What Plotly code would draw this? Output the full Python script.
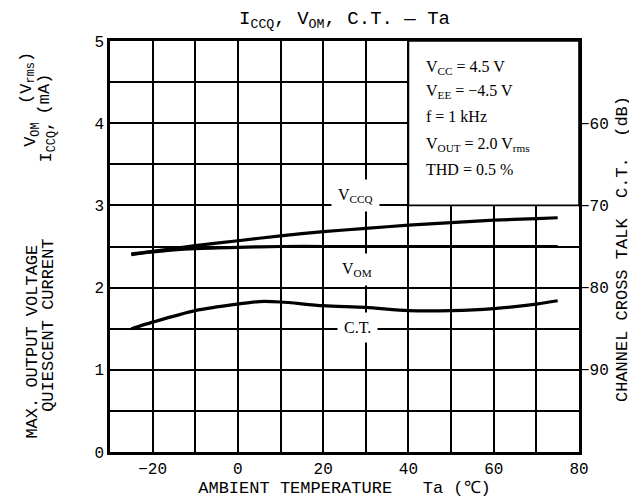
import plotly.graph_objects as go

# ---- data ----
T_iccq = [-25, -20, -10, 0, 10, 20, 30, 40, 50, 60, 70, 75]
I_ccq = [2.40, 2.44, 2.51, 2.57, 2.63, 2.68, 2.72, 2.76, 2.79, 2.82, 2.84, 2.85]

T_vom = [-25, -15, -10, 0, 10, 20, 40, 60, 75]
V_om = [2.41, 2.46, 2.475, 2.49, 2.50, 2.50, 2.50, 2.50, 2.50]

T_ct = [-25, -20, -10, 0, 5, 10, 20, 30, 40, 50, 60, 70, 75]
CT_db = [-85.0, -84.2, -82.8, -82.0, -81.7, -81.75, -82.2, -82.4, -82.8, -82.8, -82.55, -82.0, -81.6]

x_ticks = [-20, 0, 20, 40, 60, 80]
y_ticks = [0, 1, 2, 3, 4, 5]
y2_ticks = [-90, -80, -70, -60]

MONO = "Liberation Mono"
SERIF = "Liberation Serif"

fig = go.Figure()
line = dict(color="black", width=3.2, shape="spline", smoothing=0.8)
fig.add_trace(go.Scatter(x=T_iccq, y=I_ccq, mode="lines", line=line, yaxis="y"))
fig.add_trace(go.Scatter(x=T_vom, y=V_om, mode="lines", line=line, yaxis="y"))
fig.add_trace(go.Scatter(x=T_ct, y=CT_db, mode="lines", line=line, yaxis="y2"))

# white parameter box
fig.add_shape(type="rect", xref="x", yref="y", x0=40, x1=80, y0=3.0, y1=5.0,
              fillcolor="white", line=dict(color="black", width=1.6), layer="above")

params = [
    ("V<sub>CC</sub> = 4.5 V", 4.68),
    ("V<sub>EE</sub> = −4.5 V", 4.38),
    ("f = 1 kHz", 4.08),
    ("V<sub>OUT</sub> = 2.0 V<sub>rms</sub>", 3.74),
    ("THD = 0.5 %", 3.44),
]
for txt, yy in params:
    fig.add_annotation(x=43.6, y=yy, xref="x", yref="y", text=txt, showarrow=False,
                       xanchor="left", yanchor="middle",
                       font=dict(family=SERIF, size=16, color="black"))

# curve labels
for txt, xx, yy in [("V<sub>CCQ</sub>", 27.5, 3.12), ("V<sub>OM</sub>", 28, 2.22), ("C.T.", 28, 1.52)]:
    fig.add_annotation(x=xx, y=yy, xref="x", yref="y", text=txt, showarrow=False,
                       bgcolor="white", borderpad=6,
                       font=dict(family=SERIF, size=16, color="black"))

# title
fig.add_annotation(x=0.5, y=1.0, xref="paper", yref="paper", yshift=21, yanchor="middle",
                   text="I<sub>CCQ</sub>, V<sub>OM</sub>, C.T. — Ta", showarrow=False,
                   font=dict(family=MONO, size=19, color="black"))

# left axis titles (two rotated columns)
left_texts = [
    ("MAX. OUTPUT VOLTAGE", -0.166, 0.269),
    ("V<sub>OM</sub>", -0.166, 0.772),
    ("(V<sub>rms</sub>)", -0.175, 0.910),
    ("QUIESCENT CURRENT", -0.1325, 0.309),
    ("I<sub>CCQ</sub>,", -0.1325, 0.755),
    ("(mA)", -0.139, 0.872),
]
for txt, xx, yy in left_texts:
    fig.add_annotation(xref="paper", yref="paper", x=xx, y=yy, textangle=-90, text=txt,
                       xanchor="center", yanchor="middle",
                       showarrow=False, font=dict(family=MONO, size=17, color="black"))

# right axis title
fig.add_annotation(xref="paper", yref="paper", x=1.094, y=0.494, textangle=-90,
                   xanchor="center", yanchor="middle",
                   text="CHANNEL CROSS TALK  C.T.  (dB)",
                   showarrow=False, font=dict(family=MONO, size=17, color="black"))

fig.update_layout(
    width=637, height=499,
    margin=dict(l=102, r=66, t=33, b=49),
    paper_bgcolor="white", plot_bgcolor="white",
    showlegend=False,
    xaxis=dict(range=[-30, 80], tickvals=x_ticks, showgrid=True, gridcolor="black", gridwidth=1.5,
               minor=dict(dtick=10, tick0=0, showgrid=True, gridcolor="black", gridwidth=1.5),
               showline=True, linecolor="black", linewidth=2.5, mirror=True, zeroline=False,
               ticks="", tickfont=dict(family=MONO, size=16, color="black"),
               title=dict(text="AMBIENT TEMPERATURE   Ta (℃)", font=dict(family=MONO, size=17, color="black"),
                          standoff=4)),
    yaxis=dict(range=[0, 5], tickvals=y_ticks, showgrid=True, gridcolor="black", gridwidth=1.5,
               minor=dict(dtick=0.5, tick0=0, showgrid=True, gridcolor="black", gridwidth=1.5),
               showline=True, linecolor="black", linewidth=2.5, mirror=True, zeroline=False,
               ticks="", tickfont=dict(family=MONO, size=16, color="black")),
    yaxis2=dict(range=[-100, -50], overlaying="y", side="right", tickvals=y2_ticks,
                showgrid=False, zeroline=False, showline=False, ticks="",
                tickfont=dict(family=MONO, size=16, color="black")),
)

fig.write_html("out.html")
